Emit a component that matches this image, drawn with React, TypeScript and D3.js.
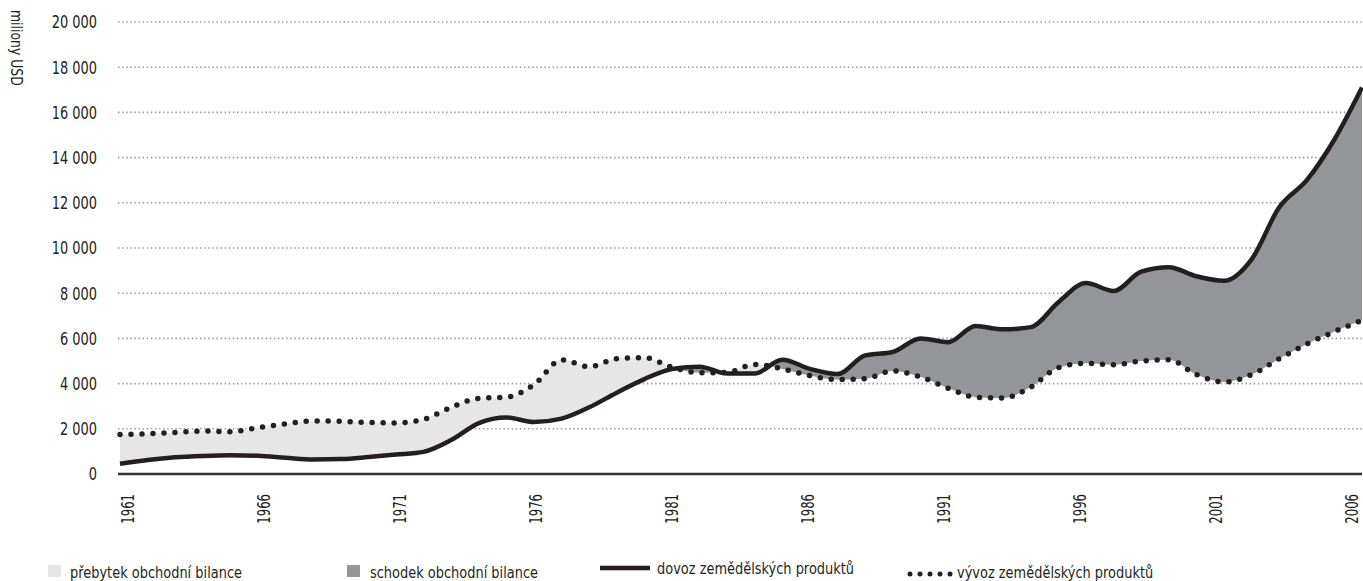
import React from "react"
import * as d3 from "d3"

// roky 1961–2006
const years = d3.range(1961, 2007)

// dovoz zemědělských produktů (mil. USD)
const imports = [
  450, 620, 740, 800, 830, 810, 720, 640, 660, 750,
  860, 980, 1500, 2250, 2500, 2300, 2450, 2950, 3600, 4200,
  4650, 4750, 4450, 4450, 5050, 4650, 4420, 5250, 5400, 6000,
  5830, 6550, 6400, 6500, 7600, 8450, 8100, 8950, 9150, 8750,
  8550, 9500, 11800, 13000, 14800, 17100,
]

// vývoz zemědělských produktů (mil. USD)
const exports = [
  1750, 1780, 1840, 1900, 1870, 2050, 2220, 2350, 2330, 2280,
  2260, 2420, 2950, 3350, 3400, 3950, 5050, 4750, 5100, 5150,
  4720, 4480, 4500, 4850, 4650, 4350, 4180, 4220, 4560, 4300,
  3800, 3400, 3360, 3850, 4700, 4900, 4830, 5000, 5050, 4400,
  4070, 4400, 5100, 5750, 6300, 6800,
]

const yTicks = [0, 2000, 4000, 6000, 8000, 10000, 12000, 14000, 16000, 18000, 20000]
const xTicks = [1961, 1966, 1971, 1976, 1981, 1986, 1991, 1996, 2001, 2006]

const legendLabels = [
  "přebytek obchodní bilance",
  "schodek obchodní bilance",
  "dovoz zemědělských produktů",
  "vývoz zemědělských produktů",
]

const W = 1363
const H = 581
const FONT = "'DejaVu Sans Condensed', 'Liberation Sans Narrow', sans-serif"
const INK = "#231f20"
const LIGHT = "#e6e6e6"
const DARK = "#939598"

type Row = { year: number; imp: number; exp: number }
const rows: Row[] = years.map((year, i) => ({ year, imp: imports[i], exp: exports[i] }))

const fmt = (v: number) => d3.format(",")(v).replace(/,/g, " ")

// text stlačený do šířky (náhrada za kondenzované písmo)
function Txt({
  x,
  y,
  rot = 0,
  sx = 0.8,
  size = 17,
  anchor = "start",
  dy,
  children,
}: {
  x: number
  y: number
  rot?: number
  sx?: number
  size?: number
  anchor?: string
  dy?: string
  children: React.ReactNode
}) {
  return (
    <text
      transform={`translate(${x},${y}) rotate(${rot}) scale(${sx},1)`}
      textAnchor={anchor}
      dy={dy}
      fontSize={size}
      fill={INK}
    >
      {children}
    </text>
  )
}

export default function App() {
  const x = d3.scaleLinear().domain([1961, 2006]).range([120, 1362])
  const y = d3.scaleLinear().domain([0, 20000]).range([474, 22])
  // popisky let jsou mírně posunuté dovnitř
  const xLab = d3.scaleLinear().domain([1961, 2006]).range([128, 1352])
  const curve = d3.curveMonotoneX

  const importLine = d3.line<Row>().x((d) => x(d.year)).y((d) => y(d.imp)).curve(curve)
  const exportLine = d3.line<Row>().x((d) => x(d.year)).y((d) => y(d.exp)).curve(curve)
  const band = d3
    .area<Row>()
    .x((d) => x(d.year))
    .y0((d) => y(d.imp))
    .y1((d) => y(d.exp))
    .curve(curve)
  // oblast nad / pod křivkou dovozu
  const aboveImp = d3.area<Row>().x((d) => x(d.year)).y0(0).y1((d) => y(d.imp)).curve(curve)
  const belowImp = d3.area<Row>().x((d) => x(d.year)).y0(H).y1((d) => y(d.imp)).curve(curve)

  return (
    <svg
      width={W}
      height={H}
      style={{ position: "absolute", left: 0, top: 0, display: "block", background: "#fff" }}
      fontFamily={FONT}
    >
      <defs>
        <clipPath id="clip-above">
          <path d={aboveImp(rows) || ""} />
        </clipPath>
        <clipPath id="clip-below">
          <path d={belowImp(rows) || ""} />
        </clipPath>
      </defs>

      {/* mřížka */}
      {yTicks.slice(1).map((t) => (
        <line
          key={t}
          x1={118}
          x2={1362}
          y1={y(t)}
          y2={y(t)}
          stroke="#9d9d9d"
          strokeWidth={1.6}
          strokeDasharray="1.5 2.6"
        />
      ))}

      {/* plochy */}
      <path d={band(rows) || ""} fill={LIGHT} clipPath="url(#clip-above)" />
      <path d={band(rows) || ""} fill={DARK} clipPath="url(#clip-below)" />

      {/* osa x */}
      <line x1={118} x2={1362} y1={y(0)} y2={y(0)} stroke="#333" strokeWidth={2.5} />

      {/* linie */}
      <path d={importLine(rows) || ""} fill="none" stroke={INK} strokeWidth={4.5} strokeLinejoin="round" />
      <path
        d={exportLine(rows) || ""}
        fill="none"
        stroke={INK}
        strokeWidth={5.5}
        strokeLinecap="round"
        strokeDasharray="0 11"
      />

      {/* popisky osy y */}
      {yTicks.map((t) => (
        <Txt key={t} x={97} y={y(t)} dy="0.36em" anchor="end" size={18} sx={0.8}>
          {fmt(t)}
        </Txt>
      ))}
      <Txt x={11} y={10} rot={90} size={15} sx={0.92}>
        miliony USD
      </Txt>

      {/* popisky osy x */}
      {xTicks.map((t) => (
        <Txt key={t} x={xLab(t)} y={494} rot={-90} dy="0.36em" anchor="end" size={18} sx={0.72}>
          {t}
        </Txt>
      ))}

      {/* legenda */}
      <rect x={48} y={565} width={13} height={12} fill={LIGHT} />
      <Txt x={70} y={577.5} size={16} sx={0.9}>
        {legendLabels[0]}
      </Txt>
      <rect x={347} y={565} width={13} height={12} fill={DARK} />
      <Txt x={370} y={577.5} size={16} sx={0.9}>
        {legendLabels[1]}
      </Txt>
      <line x1={600} x2={650} y1={568} y2={568} stroke={INK} strokeWidth={4.5} />
      <Txt x={657} y={574} size={16} sx={0.9}>
        {legendLabels[2]}
      </Txt>
      <line
        x1={910}
        x2={951}
        y1={574}
        y2={574}
        stroke={INK}
        strokeWidth={5}
        strokeLinecap="round"
        strokeDasharray="0 10"
      />
      <Txt x={957} y={578} size={16} sx={0.9}>
        {legendLabels[3]}
      </Txt>
    </svg>
  )
}
